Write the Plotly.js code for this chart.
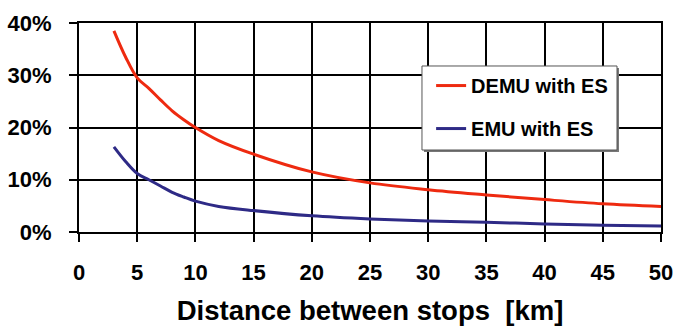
<!DOCTYPE html>
<html>
<head>
<meta charset="utf-8">
<script src="https://cdn.plot.ly/plotly-3.0.1.min.js"></script>
<style>html,body{margin:0;padding:0;background:#fff;}#chart{width:675px;height:326px;}</style>
</head>
<body>
<div id="chart"></div>
<script>
const distance = [3, 4, 5, 6, 7, 8, 9, 10, 12, 15, 20, 25, 30, 35, 40, 45, 50];
const demuWithES = [0.385, 0.335, 0.295, 0.275, 0.253, 0.232, 0.215, 0.200, 0.175, 0.149, 0.115, 0.094, 0.081, 0.071, 0.062, 0.054, 0.049];
const emuWithES = [0.163, 0.135, 0.112, 0.100, 0.088, 0.076, 0.067, 0.059, 0.049, 0.041, 0.031, 0.025, 0.021, 0.0185, 0.0155, 0.013, 0.0115];
const seriesNames = ['DEMU with ES', 'EMU with ES'];
const xTicks = [0, 5, 10, 15, 20, 25, 30, 35, 40, 45, 50];
const yTicks = [0, 0.1, 0.2, 0.3, 0.4];
const yTickLabels = ['0%', '10%', '20%', '30%', '40%'];

const font = 'Liberation Sans, Arial, sans-serif';
const b = s => '<b>' + s + '</b>';

const traces = [
  {x: distance, y: demuWithES, name: b(seriesNames[0]), type: 'scatter', mode: 'lines',
   line: {color: '#ee2a10', width: 3, shape: 'spline'}, legendgroup: 'a'},
  {x: distance, y: emuWithES, name: b(seriesNames[1]), type: 'scatter', mode: 'lines',
   line: {color: '#2e2a86', width: 3, shape: 'spline'}, legendgroup: 'b'}
];

const layout = {
  width: 675, height: 326,
  margin: {l: 79, r: 14, t: 23, b: 94},
  paper_bgcolor: '#fff', plot_bgcolor: '#fff',
  font: {family: font, color: '#000'},
  showlegend: true,
  legend: {
    x: 0.6050, y: 0.794, xanchor: 'left', yanchor: 'top',
    bgcolor: 'rgba(0,0,0,0)', borderwidth: 0,
    font: {family: font, size: 20, color: '#000'},
    tracegroupgap: 14, traceorder: 'grouped', itemwidth: 30
  },
  shapes: [
    {type: 'rect', xref: 'paper', yref: 'paper', layer: 'above',
     x0: 0.5927, x1: 0.9278, y0: 0.3827, y1: 0.7847,
     fillcolor: '#777', line: {width: 0}},
    {type: 'rect', xref: 'paper', yref: 'paper', layer: 'above',
     x0: 0.5893, x1: 0.9244, y0: 0.3923, y1: 0.7943,
     fillcolor: '#fff', line: {color: '#555', width: 1}}
  ],
  xaxis: {
    range: [0, 50], tickvals: xTicks, ticktext: xTicks.map(v => b(String(v))),
    showgrid: true, gridcolor: '#000', gridwidth: 2,
    showline: true, linecolor: '#000', linewidth: 2, mirror: true,
    ticks: 'outside', ticklen: 8, tickwidth: 2, tickcolor: '#000',
    tickfont: {family: font, size: 22, color: '#000'},
    ticklabelstandoff: 12,
    zeroline: false, fixedrange: true,
    title: {text: b('Distance between stops  [km]'), standoff: 21,
            font: {family: font, size: 27.5, color: '#000'}}
  },
  yaxis: {
    range: [0, 0.4], tickvals: yTicks, ticktext: yTickLabels.map(b),
    showgrid: true, gridcolor: '#000', gridwidth: 2,
    showline: true, linecolor: '#000', linewidth: 2, mirror: true,
    ticks: 'outside', ticklen: 8, tickwidth: 2, tickcolor: '#000',
    tickfont: {family: font, size: 22, color: '#000'},
    ticklabelstandoff: 13,
    zeroline: false, fixedrange: true
  }
};

Plotly.newPlot('chart', traces, layout, {displayModeBar: false, staticPlot: true});
</script>
</body>
</html>
